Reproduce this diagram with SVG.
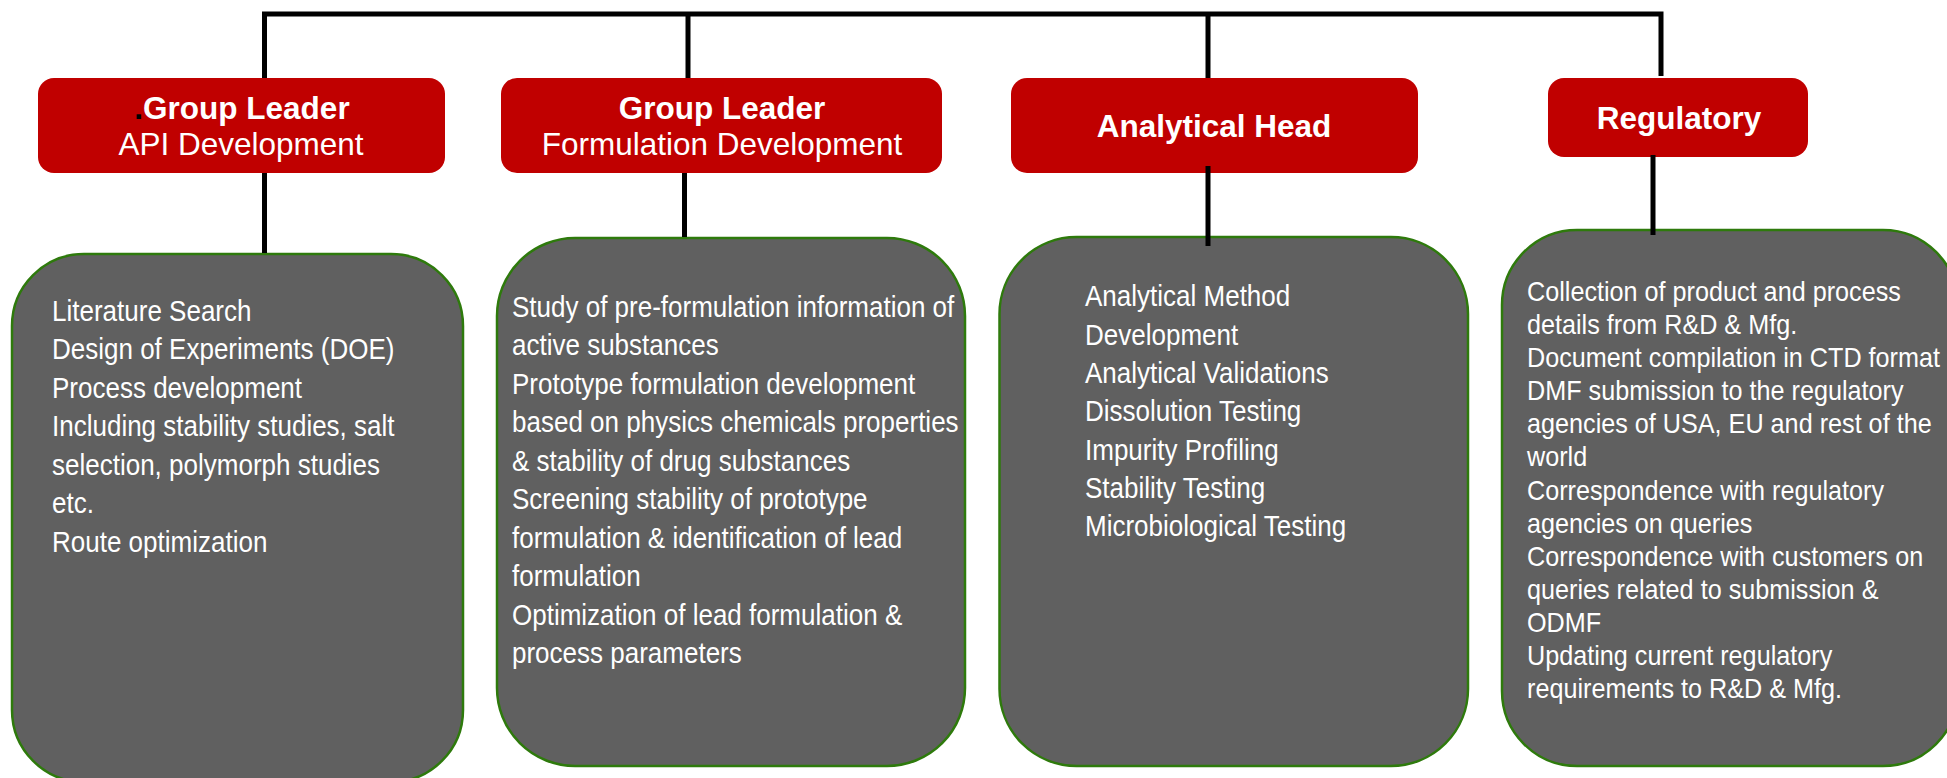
<svg xmlns="http://www.w3.org/2000/svg" width="1947" height="778" viewBox="0 0 1947 778">
<style>
.hd{fill:#C00000}
.bx{fill:#606060;stroke:#2E7A0C;stroke-width:2.5}
.t{font-family:"Liberation Sans",Arial,sans-serif;fill:#FFFFFF}
.b{font-weight:bold}
.ln{stroke:#000;stroke-width:5;fill:none}
</style>
<rect width="1947" height="778" fill="#FFFFFF"/>
<g id="head-api">
<rect class="hd" x="38" y="78" width="407" height="95" rx="16"/>
<text class="t b" x="242" y="119" font-size="31.5" text-anchor="middle"><tspan fill="#000">.</tspan>Group Leader</text>
<text class="t" x="241" y="155" font-size="31.5" text-anchor="middle">API Development</text>
</g>
<g id="head-formulation">
<rect class="hd" x="501" y="78" width="441" height="95" rx="16"/>
<text class="t b" x="722" y="119" font-size="31.5" text-anchor="middle">Group Leader</text>
<text class="t" x="722" y="155" font-size="31.5" text-anchor="middle">Formulation Development</text>
</g>
<g id="head-analytical">
<rect class="hd" x="1011" y="78" width="407" height="95" rx="16"/>
<text class="t b" x="1214" y="137" font-size="31.5" text-anchor="middle">Analytical Head</text>
</g>
<g id="head-regulatory">
<rect class="hd" x="1548" y="78" width="260" height="79" rx="16"/>
<text class="t b" x="1679" y="129" font-size="31.5" text-anchor="middle">Regulatory</text>
</g>
<g id="box-api">
<rect class="bx" x="12" y="254" width="451" height="528" rx="72"/>
<text class="t" font-size="28.9" transform="translate(52,0) scale(0.9,1)">
<tspan x="0" y="321">Literature Search</tspan>
<tspan x="0" y="359.5">Design of Experiments (DOE)</tspan>
<tspan x="0" y="398">Process development</tspan>
<tspan x="0" y="436.5">Including stability studies, salt</tspan>
<tspan x="0" y="475">selection, polymorph studies</tspan>
<tspan x="0" y="513.5">etc.</tspan>
<tspan x="0" y="552">Route optimization</tspan>
</text>
</g>
<g id="box-formulation">
<rect class="bx" x="497" y="238" width="468" height="528" rx="78"/>
<text class="t" font-size="28.9" transform="translate(512,0) scale(0.9,1)">
<tspan x="0" y="317">Study of pre-formulation information of</tspan>
<tspan x="0" y="355.5">active substances</tspan>
<tspan x="0" y="394">Prototype formulation development</tspan>
<tspan x="0" y="432.5">based on physics chemicals properties</tspan>
<tspan x="0" y="471">&amp; stability of drug substances</tspan>
<tspan x="0" y="509.5">Screening stability of prototype</tspan>
<tspan x="0" y="548">formulation &amp; identification of lead</tspan>
<tspan x="0" y="586.5">formulation</tspan>
<tspan x="0" y="625">Optimization of lead formulation &amp;</tspan>
<tspan x="0" y="663.5">process parameters</tspan>
</text>
</g>
<g id="box-analytical">
<rect class="bx" x="999.5" y="237" width="468.5" height="529" rx="77"/>
<text class="t" font-size="28.9" transform="translate(1085,0) scale(0.9,1)">
<tspan x="0" y="306.5">Analytical Method</tspan>
<tspan x="0" y="344.8">Development</tspan>
<tspan x="0" y="383.1">Analytical Validations</tspan>
<tspan x="0" y="421.4">Dissolution Testing</tspan>
<tspan x="0" y="459.7">Impurity Profiling</tspan>
<tspan x="0" y="498">Stability Testing</tspan>
<tspan x="0" y="536.3">Microbiological Testing</tspan>
</text>
</g>
<g id="box-regulatory">
<rect class="bx" x="1502" y="230" width="456" height="536" rx="75"/>
<text class="t" font-size="28" transform="translate(1527,0) scale(0.9,1)">
<tspan x="0" y="301">Collection of product and process</tspan>
<tspan x="0" y="334.1">details from R&amp;D &amp; Mfg.</tspan>
<tspan x="0" y="367.2">Document compilation in CTD format</tspan>
<tspan x="0" y="400.3">DMF submission to the regulatory</tspan>
<tspan x="0" y="433.4">agencies of USA, EU and rest of the</tspan>
<tspan x="0" y="466.5">world</tspan>
<tspan x="0" y="499.6">Correspondence with regulatory</tspan>
<tspan x="0" y="532.7">agencies on queries</tspan>
<tspan x="0" y="565.8">Correspondence with customers on</tspan>
<tspan x="0" y="598.9">queries related to submission &amp;</tspan>
<tspan x="0" y="632">ODMF</tspan>
<tspan x="0" y="665.1">Updating current regulatory</tspan>
<tspan x="0" y="698.2">requirements to R&amp;D &amp; Mfg.</tspan>
</text>
</g>
<g id="connectors">
<path class="ln" d="M264.5,78 V14 H1661 V76"/>
<path class="ln" d="M688,14 V78"/>
<path class="ln" d="M1208,14 V78"/>
<path class="ln" d="M264.5,173 V253"/>
<path class="ln" d="M684.5,173 V237" stroke-width="4.5"/>
<path class="ln" d="M1208,166 V246"/>
<path class="ln" d="M1653,155 V235"/>
</g>
</svg>
